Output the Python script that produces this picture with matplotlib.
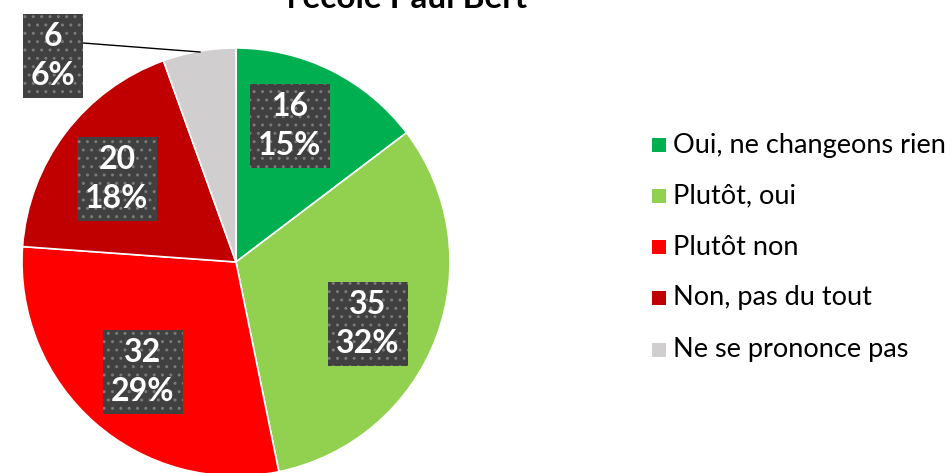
import matplotlib
matplotlib.use("Agg")
import matplotlib.pyplot as plt

categories = ["Oui, ne changeons rien", "Plutôt, oui", "Plutôt non", "Non, pas du tout", "Ne se prononce pas"]
values = [16, 35, 32, 20, 6]
percent_labels = ["15%", "32%", "29%", "18%", "6%"]
colors = ["#00B050", "#92D050", "#FF0000", "#C00000", "#D0CECE"]
title = "l'école Paul Bert"

W, H = 953, 473
fig = plt.figure(figsize=(W / 100, H / 100), dpi=100)
ax = fig.add_axes([0, 0, 1, 1])

def py(y):
    return H - y

cx, cy, r = 236, py(262), 214
wedges, _ = ax.pie(values, colors=colors, startangle=90, counterclock=False,
                   center=(cx, cy), radius=r, frame=True,
                   wedgeprops=dict(edgecolor="white", linewidth=1.2))
ax.set_xlim(0, W)
ax.set_ylim(0, H)
ax.set_aspect("equal")
ax.axis("off")

label_pos = [(290, 126), (368, 324), (143, 372), (117, 179), (53, 56)]
for (x, y), v, p in zip(label_pos, values, percent_labels):
    ax.text(x, py(y), f"{v}\n{p}", ha="center", va="center", color="white",
            fontsize=23, fontweight="bold", family="Lato", linespacing=1.4,
            bbox=dict(boxstyle="square,pad=0.25", facecolor="#404040",
                      edgecolor="#7a7a7a", hatch="..", linewidth=0))

# leader line for small slice
ax.plot([83, 200], [py(43), py(52)], color="black", lw=1)

# legend
leg_y = [145, 196, 247, 298, 350]
for yy, c, lab in zip(leg_y, colors, categories):
    ax.add_patch(plt.Rectangle((652, py(yy) - 7), 14, 14, facecolor=c, edgecolor="none"))
    ax.text(673, py(yy), lab, ha="left", va="center", fontsize=19.5, family="Lato", color="black")

ax.text(407, py(8), title, ha="center", va="baseline", fontsize=24, fontweight="bold",
        family="Lato", color="black")

fig.savefig("out.png", dpi=100)
